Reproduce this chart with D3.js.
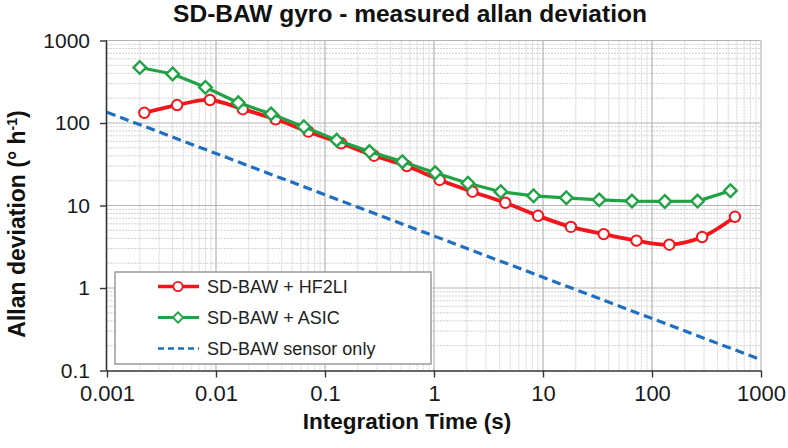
<!DOCTYPE html>
<html>
<head>
<meta charset="utf-8">
<script src="https://cdn.jsdelivr.net/npm/d3@7"></script>
<style>
  html, body { margin: 0; padding: 0; background: #fff; }
  svg { display: block; font-family: "Liberation Sans", Arial, Helvetica, sans-serif; }
</style>
</head>
<body>
<svg id="chart" width="788" height="448"></svg>
<script>
// ---- data ----
const chartTitle = "SD-BAW gyro - measured allan deviation";
const xTitle = "Integration Time (s)";
const seriesNames = ["SD-BAW + HF2LI", "SD-BAW + ASIC", "SD-BAW sensor only"];

const xTickValues = [0.001, 0.01, 0.1, 1, 10, 100, 1000];
const xTickLabels = ["0.001", "0.01", "0.1", "1", "10", "100", "1000"];
const yTickValues = [0.1, 1, 10, 100, 1000];
const yTickLabels = ["0.1", "1", "10", "100", "1000"];

const hf2liTau = [0.0022, 0.0044, 0.0088, 0.0176, 0.0352, 0.0704, 0.1408, 0.2816, 0.5632,
                  1.126, 2.253, 4.506, 9.011, 18.02, 36.04, 72.09, 144.2, 288.4, 576.7];
const hf2liDev = [133, 165, 190, 147, 111, 78.5, 56.8, 40.1, 30.1,
                  20.4, 14.7, 10.8, 7.5, 5.5, 4.5, 3.75, 3.35, 4.15, 7.3];

const asicTau = [0.002, 0.004, 0.008, 0.016, 0.032, 0.064, 0.128, 0.256, 0.512,
                 1.024, 2.048, 4.096, 8.192, 16.38, 32.77, 65.54, 131.1, 262.1, 524.3];
const asicDev = [470, 393, 271, 176, 129, 90, 62, 45, 34,
                 25, 18.6, 14.7, 13.1, 12.4, 11.7, 11.3, 11.2, 11.3, 15.1];

const sensorTau = [0.001, 1000];
const sensorDev = [135, 0.135];

const colors = { hf2li: "#f2161b", asic: "#1fa345", sensor: "#1f6fc0" };

// ---- layout ----
const svg = d3.select("#chart");
const x = d3.scaleLog().domain([0.001, 1000]).range([107, 761]);
const y = d3.scaleLog().domain([0.1, 1000]).range([370.5, 40.5]);
const [x0, x1] = x.range();
const [yb, yt] = y.range();

// plot background
svg.append("rect").attr("x", x0).attr("y", yt).attr("width", x1 - x0).attr("height", yb - yt).attr("fill", "#fff");

// minor grid
const isMajor = v => Math.abs(Math.log10(v) - Math.round(Math.log10(v))) < 1e-9;
const gMinor = svg.append("g");
gMinor.selectAll("line.vx").data(x.ticks().filter(v => !isMajor(v))).join("line")
  .attr("x1", d => x(d)).attr("x2", d => x(d)).attr("y1", yt).attr("y2", yb)
  .attr("stroke", "#d2d2d2").attr("stroke-width", 1).attr("stroke-dasharray", "2,1");
gMinor.selectAll("line.hy").data(y.ticks().filter(v => !isMajor(v))).join("line")
  .attr("y1", d => y(d)).attr("y2", d => y(d)).attr("x1", x0).attr("x2", x1)
  .attr("stroke", "#d2d2d2").attr("stroke-width", 1).attr("stroke-dasharray", "2,1");

// major grid
const gMajor = svg.append("g");
gMajor.selectAll("line.mx").data(xTickValues.slice(1)).join("line")
  .attr("x1", d => x(d)).attr("x2", d => x(d)).attr("y1", yt).attr("y2", yb)
  .attr("stroke", "#b4b4b4").attr("stroke-width", 1.2);
gMajor.selectAll("line.my").data(yTickValues.slice(1)).join("line")
  .attr("y1", d => y(d)).attr("y2", d => y(d)).attr("x1", x0).attr("x2", x1)
  .attr("stroke", "#b4b4b4").attr("stroke-width", 1.2);

// sensor-only dashed line
const lineGen = (tau, dev) => d3.line().x((d, i) => x(tau[i])).y((d, i) => y(dev[i]));
svg.append("path").datum(sensorDev)
  .attr("d", lineGen(sensorTau, sensorDev))
  .attr("fill", "none").attr("stroke", colors.sensor).attr("stroke-width", 3.2)
  .attr("stroke-dasharray", "9,5");

// HF2LI (red, smoothed)
svg.append("path").datum(hf2liDev)
  .attr("d", lineGen(hf2liTau, hf2liDev).curve(d3.curveCatmullRom.alpha(0.5)))
  .attr("fill", "none").attr("stroke", colors.hf2li).attr("stroke-width", 3.8)
  .attr("stroke-linejoin", "round");
svg.append("g").selectAll("circle").data(hf2liDev).join("circle")
  .attr("cx", (d, i) => x(hf2liTau[i])).attr("cy", d => y(d)).attr("r", 5.2)
  .attr("fill", "#fff").attr("stroke", colors.hf2li).attr("stroke-width", 2);

// ASIC (green)
svg.append("path").datum(asicDev)
  .attr("d", lineGen(asicTau, asicDev))
  .attr("fill", "none").attr("stroke", colors.asic).attr("stroke-width", 3.2)
  .attr("stroke-linejoin", "round");
const diamond = (cx, cy, r) => `M${cx},${cy - r}L${cx + r},${cy}L${cx},${cy + r}L${cx - r},${cy}Z`;
svg.append("g").selectAll("path").data(asicDev).join("path")
  .attr("d", (d, i) => diamond(x(asicTau[i]), y(d), 6.3))
  .attr("fill", "#fff").attr("stroke", colors.asic).attr("stroke-width", 2.4);

// axes
const xAxis = d3.axisBottom(x).tickValues(xTickValues).tickSize(7)
  .tickFormat((d, i) => xTickLabels[i]);
const gx = svg.append("g").attr("transform", `translate(0,${yb})`).call(xAxis);
gx.select(".domain").attr("stroke", "#333").attr("stroke-width", 1.6).attr("d", `M${x0},0.5H${x1}`);
gx.selectAll(".tick line").attr("stroke", "#333").attr("stroke-width", 1.4);
gx.selectAll(".tick text").attr("font-size", 22).attr("fill", "#1a1a1a").attr("y", 15)
  .attr("font-family", "Liberation Sans, Arial, sans-serif");

const yAxis = d3.axisLeft(y).tickValues(yTickValues).tickSize(7)
  .tickFormat((d, i) => yTickLabels[i]);
const gy = svg.append("g").attr("transform", `translate(${x0},0)`).call(yAxis);
gy.select(".domain").attr("stroke", "#333").attr("stroke-width", 1.6).attr("d", `M-0.5,${yb}V${yt}`);
gy.selectAll(".tick line").attr("stroke", "#333").attr("stroke-width", 1.4);
gy.selectAll(".tick text").attr("font-size", 21).attr("fill", "#1a1a1a").attr("x", -17)
  .attr("font-family", "Liberation Sans, Arial, sans-serif");

// legend
const legend = svg.append("g");
legend.append("rect").attr("x", 115).attr("y", 272).attr("width", 316).attr("height", 92)
  .attr("fill", "#fff").attr("stroke", "#9a9a9a").attr("stroke-width", 1.5);
const legRows = [286.5, 317.5, 348.5];
// row 1
legend.append("line").attr("x1", 158).attr("x2", 199).attr("y1", legRows[0]).attr("y2", legRows[0])
  .attr("stroke", colors.hf2li).attr("stroke-width", 3.5);
legend.append("circle").attr("cx", 178).attr("cy", legRows[0]).attr("r", 4.6)
  .attr("fill", "#fff").attr("stroke", colors.hf2li).attr("stroke-width", 1.8);
// row 2
legend.append("line").attr("x1", 158).attr("x2", 199).attr("y1", legRows[1]).attr("y2", legRows[1])
  .attr("stroke", colors.asic).attr("stroke-width", 3);
legend.append("path").attr("d", diamond(178, legRows[1], 5.2))
  .attr("fill", "#fff").attr("stroke", colors.asic).attr("stroke-width", 1.8);
// row 3
legend.append("line").attr("x1", 158).attr("x2", 199).attr("y1", legRows[2]).attr("y2", legRows[2])
  .attr("stroke", colors.sensor).attr("stroke-width", 2.6).attr("stroke-dasharray", "6,4");
legend.selectAll("text").data(seriesNames).join("text")
  .attr("x", 207).attr("y", (d, i) => legRows[i]).attr("dy", "0.36em")
  .attr("font-size", 18).attr("fill", "#222").text(d => d);

// titles
svg.append("text").attr("x", 410).attr("y", 22).attr("text-anchor", "middle")
  .attr("font-size", 24.5).attr("font-weight", "bold").attr("fill", "#111").text(chartTitle);
svg.append("text").attr("x", 407).attr("y", 429).attr("text-anchor", "middle")
  .attr("font-size", 22.5).attr("font-weight", "bold").attr("fill", "#111").text(xTitle);
const yt2 = svg.append("text").attr("transform", "translate(25,224) rotate(-90)")
  .attr("text-anchor", "middle").attr("font-size", 23).attr("font-weight", "bold").attr("fill", "#111");
yt2.append("tspan").text("Allan deviation (° h");
yt2.append("tspan").attr("font-size", 14).attr("dy", -8).text("-1");
yt2.append("tspan").attr("dy", 8).text(")");
</script>
</body>
</html>
